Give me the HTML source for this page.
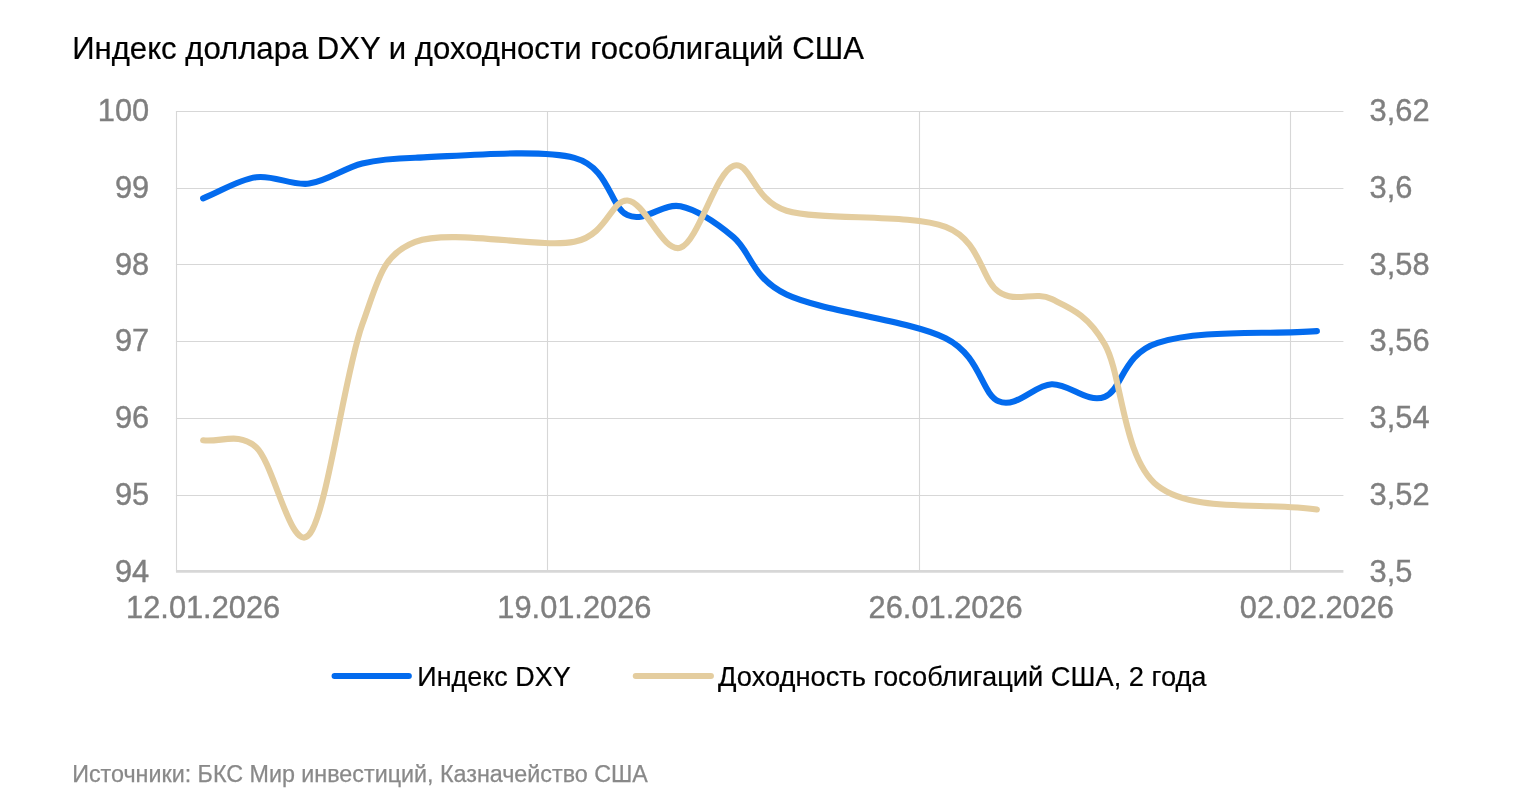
<!DOCTYPE html>
<html lang="ru"><head><meta charset="utf-8"><title>Индекс доллара DXY и доходности гособлигаций США</title>
<style>html,body{margin:0;padding:0;background:#fff}body{width:1517px;height:807px;overflow:hidden}svg{display:block}text{font-family:"Liberation Sans",Arial,Helvetica,sans-serif}</style></head><body>
<svg width="1517" height="807" viewBox="0 0 1517 807">
<rect width="1517" height="807" fill="#fff"/>
<g stroke="#d7d7d7" stroke-width="1.1" fill="none">
<line x1="175.95" x2="1343.4" y1="111.50" y2="111.50"/>
<line x1="175.95" x2="1343.4" y1="188.50" y2="188.50"/>
<line x1="175.95" x2="1343.4" y1="264.50" y2="264.50"/>
<line x1="175.95" x2="1343.4" y1="341.50" y2="341.50"/>
<line x1="175.95" x2="1343.4" y1="418.50" y2="418.50"/>
<line x1="175.95" x2="1343.4" y1="495.50" y2="495.50"/>
<line x1="176.50" x2="176.50" y1="111" y2="571"/>
<line x1="547.50" x2="547.50" y1="111" y2="571"/>
<line x1="919.50" x2="919.50" y1="111" y2="571"/>
<line x1="1290.50" x2="1290.50" y1="111" y2="571"/>
</g>
<line x1="175.95" x2="1343.4" y1="571.4" y2="571.4" stroke="#d7d7d7" stroke-width="2.7"/>
<text transform="translate(72.20,59.00) scale(1,1.0)" font-size="31.1" fill="#000" text-anchor="start" stroke="#000" stroke-width="0.2">Индекс доллара DXY и доходности гособлигаций США</text>
<text transform="translate(149.20,120.60) scale(1,1.048)" font-size="30.8" fill="#7f7f7f" text-anchor="end" stroke="#7f7f7f" stroke-width="0.4">100</text>
<text transform="translate(149.20,198.40) scale(1,1.048)" font-size="30.8" fill="#7f7f7f" text-anchor="end" stroke="#7f7f7f" stroke-width="0.4">99</text>
<text transform="translate(149.20,275.30) scale(1,1.048)" font-size="30.8" fill="#7f7f7f" text-anchor="end" stroke="#7f7f7f" stroke-width="0.4">98</text>
<text transform="translate(149.20,351.10) scale(1,1.048)" font-size="30.8" fill="#7f7f7f" text-anchor="end" stroke="#7f7f7f" stroke-width="0.4">97</text>
<text transform="translate(149.20,427.90) scale(1,1.048)" font-size="30.8" fill="#7f7f7f" text-anchor="end" stroke="#7f7f7f" stroke-width="0.4">96</text>
<text transform="translate(149.20,504.75) scale(1,1.048)" font-size="30.8" fill="#7f7f7f" text-anchor="end" stroke="#7f7f7f" stroke-width="0.4">95</text>
<text transform="translate(149.20,581.60) scale(1,1.048)" font-size="30.8" fill="#7f7f7f" text-anchor="end" stroke="#7f7f7f" stroke-width="0.4">94</text>
<text transform="translate(1369.60,120.60) scale(1,1.048)" font-size="30.8" fill="#7f7f7f" text-anchor="start" stroke="#7f7f7f" stroke-width="0.4">3,62</text>
<text transform="translate(1369.60,198.40) scale(1,1.048)" font-size="30.8" fill="#7f7f7f" text-anchor="start" stroke="#7f7f7f" stroke-width="0.4">3,6</text>
<text transform="translate(1369.60,275.30) scale(1,1.048)" font-size="30.8" fill="#7f7f7f" text-anchor="start" stroke="#7f7f7f" stroke-width="0.4">3,58</text>
<text transform="translate(1369.60,351.10) scale(1,1.048)" font-size="30.8" fill="#7f7f7f" text-anchor="start" stroke="#7f7f7f" stroke-width="0.4">3,56</text>
<text transform="translate(1369.60,427.90) scale(1,1.048)" font-size="30.8" fill="#7f7f7f" text-anchor="start" stroke="#7f7f7f" stroke-width="0.4">3,54</text>
<text transform="translate(1369.60,504.75) scale(1,1.048)" font-size="30.8" fill="#7f7f7f" text-anchor="start" stroke="#7f7f7f" stroke-width="0.4">3,52</text>
<text transform="translate(1369.60,581.60) scale(1,1.048)" font-size="30.8" fill="#7f7f7f" text-anchor="start" stroke="#7f7f7f" stroke-width="0.4">3,5</text>
<text transform="translate(203.12,618.00) scale(1,1.048)" font-size="30.8" fill="#7f7f7f" text-anchor="middle" stroke="#7f7f7f" stroke-width="0.4">12.01.2026</text>
<text transform="translate(574.37,618.00) scale(1,1.048)" font-size="30.8" fill="#7f7f7f" text-anchor="middle" stroke="#7f7f7f" stroke-width="0.4">19.01.2026</text>
<text transform="translate(945.63,618.00) scale(1,1.048)" font-size="30.8" fill="#7f7f7f" text-anchor="middle" stroke="#7f7f7f" stroke-width="0.4">26.01.2026</text>
<text transform="translate(1316.88,618.00) scale(1,1.048)" font-size="30.8" fill="#7f7f7f" text-anchor="middle" stroke="#7f7f7f" stroke-width="0.4">02.02.2026</text>
<g fill="none" stroke-linecap="round" stroke-linejoin="round" stroke-width="6.1">
<path stroke="#036bee" d="M203.12,198.40C220.80,191.35 238.48,179.72 256.15,177.25C273.83,174.78 291.51,185.89 309.19,183.60C326.87,181.31 344.55,167.82 362.23,163.50C375.56,160.24 388.60,158.41 415.26,157.70C450.62,156.76 539.02,148.28 574.37,157.85C609.73,167.42 609.73,207.02 627.41,215.10C645.09,223.18 662.77,202.63 680.45,206.30C698.12,209.97 715.80,222.40 733.48,237.10C751.12,251.77 751.24,277.69 786.52,294.50C821.88,311.35 910.27,320.40 945.63,338.20C980.98,356.00 980.98,393.62 998.66,401.30C1016.34,408.97 1034.02,385.00 1051.70,384.25C1069.38,383.50 1087.06,403.71 1104.74,396.80C1122.42,389.89 1122.42,353.75 1157.77,342.80C1201.97,329.11 1263.85,335.00 1316.88,331.10"/>
<path stroke="#e4cd9f" d="M203.12,440.30C220.80,442.60 238.48,431.48 256.15,447.20C273.83,462.92 291.51,555.05 309.19,534.60C326.87,514.15 344.55,373.27 362.23,324.50C378.94,278.38 381.83,254.98 415.26,241.95C450.62,228.17 539.02,248.71 574.37,241.80C607.36,235.35 610.92,199.58 627.41,200.50C645.09,201.48 662.77,253.48 680.45,247.70C698.12,241.92 715.80,171.97 733.48,165.80C750.18,159.98 753.13,201.08 786.52,210.70C821.88,220.88 910.27,213.38 945.63,226.90C980.98,240.42 980.98,279.77 998.66,291.80C1016.34,303.83 1034.02,290.36 1051.70,299.10C1068.89,307.60 1087.54,313.96 1104.74,344.25C1122.42,375.39 1122.42,458.42 1157.77,485.95C1193.13,513.48 1263.85,501.62 1316.88,509.45"/>
</g>
<line x1="334.6" x2="408.8" y1="676" y2="676" stroke="#036bee" stroke-width="6.1" stroke-linecap="round"/>
<text transform="translate(417.30,685.90) scale(1,1.045)" font-size="26.95" fill="#000" text-anchor="start" stroke="#000" stroke-width="0.2">Индекс DXY</text>
<line x1="635.8" x2="710.9" y1="676" y2="676" stroke="#e4cd9f" stroke-width="6.1" stroke-linecap="round"/>
<text transform="translate(718.10,685.90) scale(1,1.045)" font-size="27.27" fill="#000" text-anchor="start" stroke="#000" stroke-width="0.2">Доходность гособлигаций США, 2 года</text>
<text transform="translate(72.20,781.60) scale(1,1.0)" font-size="23.3" fill="#898989" text-anchor="start" stroke="#898989" stroke-width="0.25">Источники: БКС Мир инвестиций, Казначейство США</text>
</svg></body></html>
